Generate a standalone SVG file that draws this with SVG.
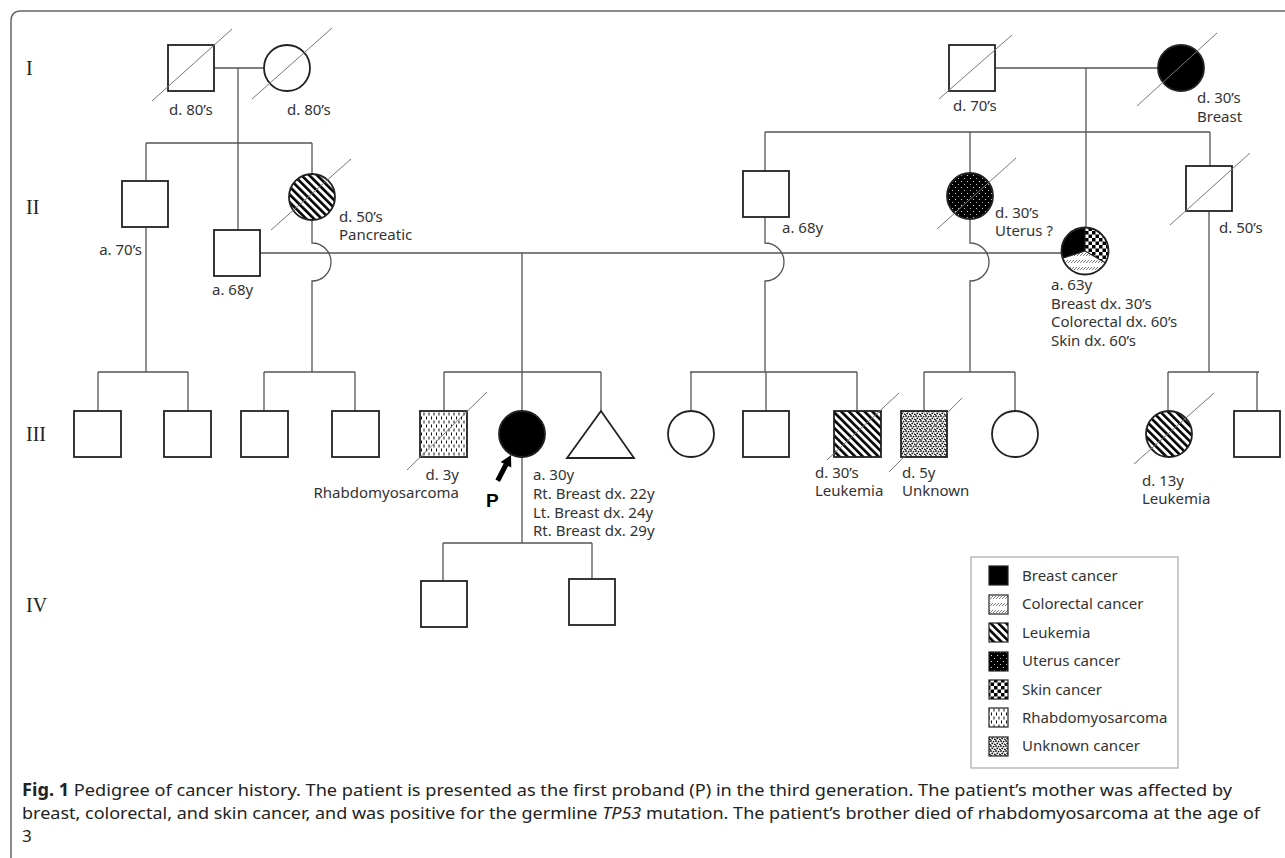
<svg xmlns="http://www.w3.org/2000/svg" width="1285" height="858" viewBox="0 0 1285 858">
<style>
.ln{stroke:#555;stroke-width:1.3;fill:none}
.nd{stroke:#222;stroke-width:1.8}
.wh{fill:#fff}
.dc{stroke:#777;stroke-width:1}
.lb{font-family:"Noto Sans",sans-serif;font-size:15px;fill:#333}
.gen{font-family:"Liberation Serif",serif;font-size:20px;fill:#222}
.cap{font-family:"Noto Sans",sans-serif;font-size:17px;fill:#222}
.li{stroke:#222;stroke-width:1.2}
</style>
<defs>
<pattern id="leuk" width="5.5" height="5.5" patternUnits="userSpaceOnUse" patternTransform="rotate(-45)"><rect width="5.5" height="5.5" fill="#fff"/><rect width="2.6" height="5.5" fill="#000"/></pattern>
<pattern id="uter" width="6" height="6" patternUnits="userSpaceOnUse"><rect width="6" height="6" fill="#000"/><circle cx="1.5" cy="1.5" r="0.6" fill="#fff"/><circle cx="4.5" cy="4.5" r="0.5" fill="#fff"/></pattern>
<pattern id="skin" width="7" height="7" patternUnits="userSpaceOnUse"><rect width="7" height="7" fill="#fff"/><rect width="3.5" height="3.5" fill="#000"/><rect x="3.5" y="3.5" width="3.5" height="3.5" fill="#000"/></pattern>
<pattern id="rhab" width="5" height="8" patternUnits="userSpaceOnUse"><rect width="5" height="8" fill="#fff"/><rect x="1" y="0.5" width="1" height="3" fill="#111"/><rect x="3.5" y="4.5" width="1" height="3" fill="#111"/></pattern>
<pattern id="unk" width="5" height="5" patternUnits="userSpaceOnUse"><rect width="5" height="5" fill="#fff"/><circle cx="1" cy="1" r="0.9" fill="#111"/><circle cx="3.6" cy="1.6" r="0.9" fill="#111"/><circle cx="2.2" cy="3.4" r="0.9" fill="#111"/><circle cx="4.6" cy="4.2" r="0.8" fill="#111"/><circle cx="0.3" cy="4.6" r="0.7" fill="#111"/></pattern>
<pattern id="colo" width="3" height="7" patternUnits="userSpaceOnUse"><rect width="3" height="7" fill="#fff"/><line x1="0" y1="4" x2="3" y2="1" stroke="#444" stroke-width="0.7"/></pattern>
</defs>
<rect width="1285" height="858" fill="#fff"/>
<path d="M11,858 V21 Q11,11 21,11 H1285" fill="none" stroke="#666" stroke-width="1.5"/>

<g id="generations">
<text class="gen" x="26" y="75">I</text>
<text class="gen" x="26" y="214">II</text>
<text class="gen" x="26" y="441">III</text>
<text class="gen" x="26" y="612">IV</text>
</g>

<g id="connectors">
<path class="ln" d="M214,68 H264"/>
<path class="ln" d="M238,68 V230"/>
<path class="ln" d="M146,143 H312 M146,143 V181 M312,143 V174"/>
<path class="ln" d="M146,227 V372 M98,372 H188 M98,372 V411 M188,372 V411"/>
<path class="ln" d="M312,220 V243 A19,19 0 0 1 312,281 V372 M264,372 H355 M264,372 V411 M355,372 V411"/>
<path class="ln" d="M260,253 H1061"/>
<path class="ln" d="M522,253 V411 M444,372 H601 M444,372 V411 M601,372 V411"/>
<path class="ln" d="M522,457 V543 M443,543 H592 M443,543 V581 M592,543 V579"/>
<path class="ln" d="M995,68 H1158"/>
<path class="ln" d="M1086,68 V228"/>
<path class="ln" d="M765,132 H1210 M765,132 V171 M970,132 V173 M1210,132 V166"/>
<path class="ln" d="M765,217 V243 A19,19 0 0 1 765,281 V372 M690,372 H857 M691,372 V411 M766,372 V411 M857,372 V411"/>
<path class="ln" d="M970,219 V243 A19,19 0 0 1 970,281 V372 M924,372 H1015 M924,372 V411 M1015,372 V411"/>
<path class="ln" d="M1209,211 V372 M1168,372 H1259 M1168,372 V411 M1257,372 V411"/>
</g>

<g id="I-1">
<rect class="nd wh" x="168" y="45" width="46" height="46"/>
<line class="dc" x1="152" y1="101" x2="232" y2="29"/>
<text class="lb" x="169" y="115">d. 80’s</text>
</g>
<g id="I-2">
<circle class="nd wh" cx="287" cy="68" r="23"/>
<line class="dc" x1="252" y1="99" x2="332" y2="28"/>
<text class="lb" x="287" y="115">d. 80’s</text>
</g>
<g id="I-3">
<rect class="nd wh" x="949" y="45" width="46" height="46"/>
<line class="dc" x1="939" y1="99" x2="1012" y2="35"/>
<text class="lb" x="953" y="111">d. 70’s</text>
</g>
<g id="I-4">
<circle class="nd" cx="1181" cy="68" r="23" fill="#000"/>
<line class="dc" x1="1137" y1="106" x2="1217" y2="33"/>
<text class="lb" x="1197" y="103">d. 30’s</text>
<text class="lb" x="1197" y="122">Breast</text>
</g>

<g id="II-1">
<rect class="nd wh" x="122" y="181" width="46" height="46"/>
<text class="lb" x="142" y="255" text-anchor="end">a. 70’s</text>
</g>
<g id="II-2">
<rect class="nd wh" x="214" y="230" width="46" height="46"/>
<text class="lb" x="212" y="295">a. 68y</text>
</g>
<g id="II-3">
<circle class="nd" cx="312" cy="197" r="23" fill="url(#leuk)"/>
<line class="dc" x1="271" y1="230" x2="351" y2="159"/>
<text class="lb" x="339" y="222">d. 50’s</text>
<text class="lb" x="339" y="240">Pancreatic</text>
</g>
<g id="II-4">
<rect class="nd wh" x="743" y="171" width="46" height="46"/>
<text class="lb" x="782" y="233">a. 68y</text>
</g>
<g id="II-5">
<circle class="nd" cx="970" cy="196" r="23" fill="url(#uter)"/>
<line class="dc" x1="937" y1="229" x2="1016" y2="158"/>
<text class="lb" x="995" y="218">d. 30’s</text>
<text class="lb" x="995" y="236">Uterus ?</text>
</g>
<g id="II-6">
<path d="M1085,251 L1085,227.5 A23.5,23.5 0 0 1 1105.35,262.75 Z" fill="url(#skin)"/>
<path d="M1085,251 L1105.35,262.75 A23.5,23.5 0 0 1 1062.65,258.26 Z" fill="url(#colo)"/>
<path d="M1085,251 L1062.65,258.26 A23.5,23.5 0 0 1 1085,227.5 Z" fill="#000"/>
<path d="M1085,227.5 L1085,251 L1105.35,262.75 M1085,251 L1062.65,258.26" stroke="#222" stroke-width="1.2" fill="none"/>
<circle class="nd" cx="1085" cy="251" r="23.5" fill="none"/>
<text class="lb" x="1051" y="290">a. 63y</text>
<text class="lb" x="1051" y="309">Breast dx. 30’s</text>
<text class="lb" x="1051" y="327">Colorectal dx. 60’s</text>
<text class="lb" x="1051" y="346">Skin dx. 60’s</text>
</g>
<g id="II-7">
<rect class="nd wh" x="1186" y="166" width="46" height="45"/>
<line class="dc" x1="1170" y1="225" x2="1250" y2="153"/>
<text class="lb" x="1219" y="233">d. 50’s</text>
</g>

<g id="III-1"><rect class="nd wh" x="74" y="411" width="47" height="46"/></g>
<g id="III-2"><rect class="nd wh" x="164" y="411" width="47" height="46"/></g>
<g id="III-3"><rect class="nd wh" x="241" y="411" width="47" height="46"/></g>
<g id="III-4"><rect class="nd wh" x="332" y="411" width="47" height="46"/></g>
<g id="III-5">
<rect class="nd" x="420" y="411" width="47" height="46" fill="url(#rhab)"/>
<line class="dc" x1="407" y1="470" x2="487" y2="392"/>
<text class="lb" x="459" y="480" text-anchor="end">d. 3y</text>
<text class="lb" x="459" y="498" text-anchor="end">Rhabdomyosarcoma</text>
</g>
<g id="III-6">
<circle class="nd" cx="522" cy="434" r="23" fill="#000"/>
<polygon points="511,455 511.27,467.53 508.16,465.92 499.88,481.9 495.44,479.6 503.72,463.62 500.61,462.01" fill="#000"/>
<text x="486" y="507" font-family="Liberation Sans, sans-serif" font-weight="bold" font-size="19" fill="#000">P</text>
<text class="lb" x="533" y="480">a. 30y</text>
<text class="lb" x="533" y="499">Rt. Breast dx. 22y</text>
<text class="lb" x="533" y="518">Lt. Breast dx. 24y</text>
<text class="lb" x="533" y="536">Rt. Breast dx. 29y</text>
</g>
<g id="III-7"><polygon class="nd wh" points="601,411 567,458 634,458"/></g>
<g id="III-8"><circle class="nd wh" cx="691" cy="434" r="23"/></g>
<g id="III-9"><rect class="nd wh" x="743" y="411" width="46" height="46"/></g>
<g id="III-10">
<rect class="nd" x="834" y="411" width="47" height="46" fill="url(#leuk)"/>
<line class="dc" x1="827" y1="460" x2="899" y2="393"/>
<text class="lb" x="815" y="478">d. 30’s</text>
<text class="lb" x="815" y="496">Leukemia</text>
</g>
<g id="III-11">
<rect class="nd" x="901" y="411" width="46" height="46" fill="url(#unk)"/>
<line class="dc" x1="889" y1="472" x2="962" y2="398"/>
<text class="lb" x="902" y="478">d. 5y</text>
<text class="lb" x="902" y="496">Unknown</text>
</g>
<g id="III-12"><circle class="nd wh" cx="1015" cy="434" r="23"/></g>
<g id="III-13">
<circle class="nd" cx="1169" cy="434" r="23" fill="url(#leuk)"/>
<line class="dc" x1="1134" y1="464" x2="1214" y2="393"/>
<text class="lb" x="1142" y="486">d. 13y</text>
<text class="lb" x="1142" y="504">Leukemia</text>
</g>
<g id="III-14"><rect class="nd wh" x="1234" y="411" width="46" height="46"/></g>

<g id="IV-1"><rect class="nd wh" x="421" y="581" width="46" height="46"/></g>
<g id="IV-2"><rect class="nd wh" x="569" y="579" width="46" height="46"/></g>

<g id="legend">
<rect x="971" y="557" width="207" height="211" fill="#fff" stroke="#aaa" stroke-width="1.2"/>
<rect class="li" x="989" y="566" width="19" height="19" fill="#000"/>
<text class="lb" x="1022" y="581">Breast cancer</text>
<rect class="li" x="989" y="595" width="19" height="19" fill="url(#colo)"/>
<text class="lb" x="1022" y="609">Colorectal cancer</text>
<rect class="li" x="989" y="623" width="19" height="19" fill="url(#leuk)"/>
<text class="lb" x="1022" y="638">Leukemia</text>
<rect class="li" x="989" y="652" width="19" height="19" fill="url(#uter)"/>
<text class="lb" x="1022" y="666">Uterus cancer</text>
<rect class="li" x="989" y="680" width="19" height="19" fill="url(#skin)"/>
<text class="lb" x="1022" y="695">Skin cancer</text>
<rect class="li" x="989" y="708" width="19" height="19" fill="url(#rhab)"/>
<text class="lb" x="1022" y="723">Rhabdomyosarcoma</text>
<rect class="li" x="989" y="737" width="19" height="19" fill="url(#unk)"/>
<text class="lb" x="1022" y="751">Unknown cancer</text>
</g>

<g id="caption">
<text class="cap" x="22" y="796" textLength="1210" lengthAdjust="spacingAndGlyphs"><tspan font-weight="bold">Fig. 1</tspan>  Pedigree of cancer history. The patient is presented as the first proband (P) in the third generation. The patient’s mother was affected by</text>
<text class="cap" x="22" y="819" textLength="1238" lengthAdjust="spacingAndGlyphs">breast, colorectal, and skin cancer, and was positive for the germline <tspan font-style="italic">TP53</tspan> mutation. The patient’s brother died of rhabdomyosarcoma at the age of</text>
<text class="cap" x="22" y="842">3</text>
</g>
</svg>
